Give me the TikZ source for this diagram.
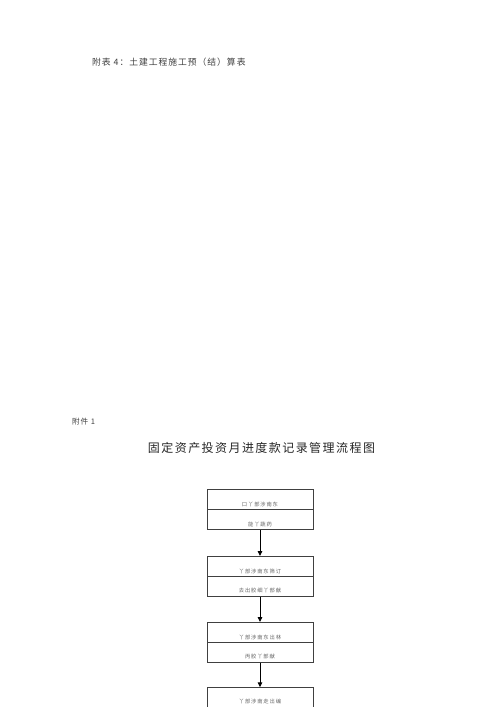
\documentclass[tikz,border=0pt]{standalone}
\usepackage{fontspec}
\usetikzlibrary{arrows.meta}
\newfontfamily\cjk{Noto Sans CJK SC}
\newfontfamily\cjkhead[LetterSpace=11]{Noto Sans CJK SC}
\newfontfamily\cjktitle[LetterSpace=12]{Noto Sans CJK SC}
\newfontfamily\cjksmall[LetterSpace=16]{Noto Sans CJK SC}
\begin{document}
\begin{tikzpicture}[x=1pt,y=-1pt,
  cell/.style={draw=black!75,line width=0.7pt,minimum width=106pt,minimum height=20pt,inner sep=0pt,anchor=north},
  celltext/.style={inner sep=0pt,text=black!60,font=\cjksmall\fontsize{5.3}{6}\selectfont},
  arr/.style={line width=0.9pt,-{Triangle[length=5pt,width=4.5pt]}},
  txt/.style={inner sep=0pt,text=black!75}]
\useasboundingbox (0,0) rectangle (500,707);
\fill[white] (0,0) rectangle (500,707);
\clip (0,0) rectangle (500,707);
\node[txt,anchor=west,font=\cjkhead\fontsize{8.8}{10}\selectfont] (head) at (92,61.7) {附表 4：土建工程施工预（结）算表};
\node[txt,anchor=west,font=\cjkhead\fontsize{7.6}{9}\selectfont] (att) at (72,422) {附件 1};
\node[txt,font=\cjktitle\fontsize{12}{14}\selectfont,text=black!85] (title) at (261.5,447.7) {固定资产投资月进度款记录管理流程图};
% box 1
\node[cell] (b1u) at (260,489.3) {};
\node[cell] (b1l) at (260,509.3) {};
\node[celltext] (t1u) at ([yshift=-5pt]b1u.center) {口丫部涉南东};
\node[celltext] (t1l) at ([yshift=-4.5pt]b1l.center) {能丫蔬药};
% box 2
\node[cell] (b2u) at (260,556) {};
\node[cell] (b2l) at (260,576) {};
\node[celltext] (t2u) at ([yshift=-5pt]b2u.center) {丫部涉南东筛订};
\node[celltext] (t2l) at ([yshift=-4.5pt]b2l.center) {去出胶细丫部献};
% box 3
\node[cell] (b3u) at (260,622) {};
\node[cell] (b3l) at (260,642) {};
\node[celltext] (t3u) at ([yshift=-5pt]b3u.center) {丫部涉南东岀林};
\node[celltext] (t3l) at ([yshift=-4.5pt]b3l.center) {丙胶丫部献};
% box 4
\node[cell] (b4u) at (260,687.3) {};
\node[cell] (b4l) at (260,707.3) {};
\node[celltext] (t4u) at ([yshift=-3.5pt]b4u.center) {丫部涉南走岀编};
% arrows
\draw[arr] (b1l.south) -- (b2u.north);
\draw[arr] (b2l.south) -- (b3u.north);
\draw[arr] (b3l.south) -- (b4u.north);
\end{tikzpicture}
\end{document}
